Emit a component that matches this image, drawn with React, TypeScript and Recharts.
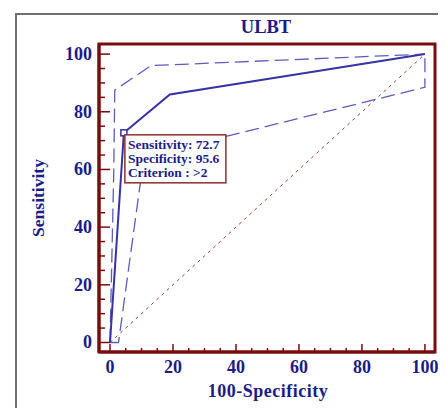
import React from "react";
import { ComposedChart, Line, Scatter, XAxis, YAxis, ReferenceArea } from "recharts";

// ROC curve points (100-Specificity, Sensitivity)
const rocX = [0, 4.4, 19, 100];
const rocY = [0, 72.7, 86, 100];

// 95% confidence bounds
const upperX = [0, 1.2, 1.5, 13, 100];
const upperY = [0, 60, 87.5, 96, 100];
const lowerX = [0, 2.7, 9.4, 11, 100, 100];
const lowerY = [0, 0, 53.5, 64.5, 88.5, 100];

const diagX = [0, 100];
const diagY = [0, 100];

// selected criterion
const critPoint = { x: 4.4, y: 72.7 };
const critLines = ["Sensitivity: 72.7", "Specificity: 95.6", "Criterion : >2"];

const xTicks = [0, 5, 10, 15, 20, 25, 30, 35, 40, 45, 50, 55, 60, 65, 70, 75, 80, 85, 90, 95, 100];
const yTicks = xTicks;

const FONT = '"Liberation Serif", "DejaVu Serif", serif';
const TEXT = "#1c1c86";
const AXIS = "#7a0c0c";
const CURVE = "#3434a4";
const CI = "#5c5cbc";

const toPts = (xs: number[], ys: number[]) => xs.map((x, i) => ({ x, y: ys[i] }));

function XTick(props: any) {
  const { x, y, payload } = props;
  const major = payload.value % 20 === 0;
  return (
    <g>
      <line x1={x} x2={x} y1={y} y2={y - (major ? 8 : 4)} stroke={AXIS} strokeWidth={1.5} />
      {major && (
        <text x={x} y={y + 21} textAnchor="middle" fill={TEXT} fontFamily={FONT} fontWeight="bold" fontSize={18}>
          {payload.value}
        </text>
      )}
    </g>
  );
}

function YTick(props: any) {
  const { x, y, payload } = props;
  const major = payload.value % 20 === 0;
  return (
    <g>
      <line x1={x} x2={x + (major ? 11 : 6)} y1={y} y2={y} stroke={AXIS} strokeWidth={1.5} />
      {major && (
        <text x={x - 7} y={y + 6} textAnchor="end" fill={TEXT} fontFamily={FONT} fontWeight="bold" fontSize={18}>
          {payload.value}
        </text>
      )}
    </g>
  );
}

function CritMarker(props: any) {
  const { cx, cy } = props;
  return (
    <g>
      <rect x={cx - 3} y={cy - 3} width={6} height={6} fill="white" stroke={CURVE} strokeWidth={1.5} />
      <rect x={cx + 1} y={cy + 2} width={101} height={48} fill="white" stroke="#8b3030" strokeWidth={1.5} />
      {critLines.map((t, i) => (
        <text key={i} x={cx + 4} y={cy + 16 + i * 14} fill={TEXT} fontFamily={FONT} fontWeight="bold" fontSize={13.5}>
          {t}
        </text>
      ))}
    </g>
  );
}

export default function App() {
  return (
    <div style={{ position: "relative", width: 446, height: 408, margin: "-8px 0 0 -8px", background: "white", overflow: "hidden" }}>
      <div style={{ position: "absolute", left: 15, top: 13, width: 460, height: 420, borderLeft: "2px solid #707070", borderTop: "2px solid #707070" }} />
      <svg width={446} height={408} style={{ position: "absolute", left: 0, top: 0 }}>
        <text x={266} y={33} textAnchor="middle" fill={TEXT} fontFamily={FONT} fontWeight="bold" fontSize={18.5}>
          ULBT
        </text>
        <text x={268} y={397} textAnchor="middle" fill={TEXT} fontFamily={FONT} fontWeight="bold" fontSize={18} letterSpacing={0.5}>
          100-Specificity
        </text>
        <text x={44} y={198} textAnchor="middle" transform="rotate(-90 44 198)" fill={TEXT} fontFamily={FONT} fontWeight="bold" fontSize={17.5}>
          Sensitivity
        </text>
      </svg>
      <div style={{ position: "absolute", left: 0, top: 0 }}>
        <ComposedChart width={446} height={408} margin={{ top: 44, right: 11, bottom: 0, left: 0 }}>
          <XAxis
            type="number"
            dataKey="x"
            domain={[-3.5, 103.2]}
            allowDataOverflow
            ticks={xTicks}
            interval={0}
            height={56}
            tickSize={0}
            tickMargin={0}
            tickLine={false}
            axisLine={{ stroke: AXIS, strokeWidth: 3 }}
            tick={<XTick />}
          />
          <YAxis
            type="number"
            dataKey="y"
            domain={[-3.3, 103.5]}
            allowDataOverflow
            ticks={yTicks}
            interval={0}
            width={99}
            tickSize={0}
            tickMargin={0}
            tickLine={false}
            axisLine={{ stroke: AXIS, strokeWidth: 3 }}
            tick={<YTick />}
          />
          <ReferenceArea x1={-3.5} x2={103.2} y1={-3.3} y2={103.5} fill="none" stroke={AXIS} strokeWidth={3} />
          <Line data={toPts(diagX, diagY)} dataKey="y" stroke="#a03838" strokeWidth={1} strokeDasharray="3 4" dot={false} isAnimationActive={false} />
          <Line data={toPts(upperX, upperY)} dataKey="y" stroke={CI} strokeWidth={1.3} strokeDasharray="14 6" dot={false} isAnimationActive={false} />
          <Line data={toPts(lowerX, lowerY)} dataKey="y" stroke={CI} strokeWidth={1.3} strokeDasharray="14 6" dot={false} isAnimationActive={false} />
          <Line data={toPts(rocX, rocY)} dataKey="y" stroke={CURVE} strokeWidth={2} dot={false} isAnimationActive={false} />
          <Scatter data={[critPoint]} dataKey="y" shape={<CritMarker />} isAnimationActive={false} />
        </ComposedChart>
      </div>
    </div>
  );
}
